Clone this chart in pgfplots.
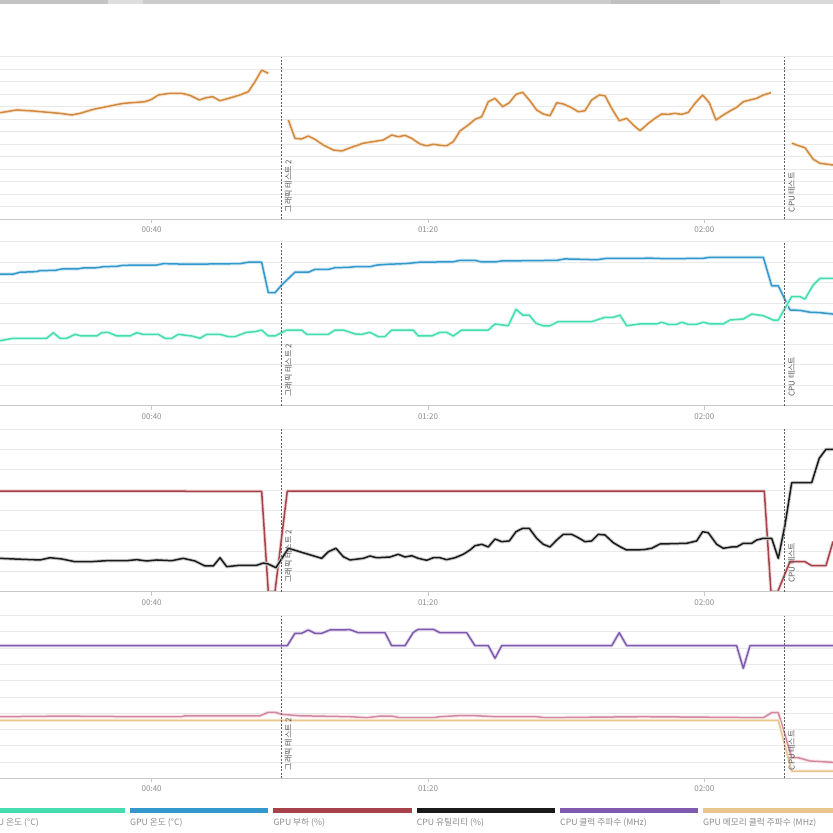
\documentclass[border=0pt]{standalone}
\usepackage{fontspec}
\setmainfont{Noto Sans CJK KR}
\usepackage{pgfplots}
\pgfplotsset{compat=1.18}
\definecolor{corange}{HTML}{D38A3C}
\definecolor{cblue}{HTML}{3399CC}
\definecolor{cteal}{HTML}{45DDB0}
\definecolor{cred}{HTML}{A8424A}
\definecolor{cblack}{HTML}{1A1A1A}
\definecolor{cpurple}{HTML}{7E5BAE}
\definecolor{ctan}{HTML}{E8C68E}
\definecolor{cpink}{HTML}{D4899F}
\definecolor{gridgray}{HTML}{E9E9E9}
\definecolor{axgray}{HTML}{C8C8C8}
\definecolor{labgray}{HTML}{8C8C8C}
\definecolor{rotgray}{HTML}{555555}
\definecolor{vgray}{HTML}{606060}
\pgfplotsset{panel/.style={
  width=833pt, height=#1, scale only axis, xmin=18.04, xmax=138.63,
  axis line style={draw=none},
  xtick={40,80,120}, xticklabels={00:40,01:20,02:00},
  tick align=outside, xtick pos=left, major tick length=4pt,
  xtick style={draw=axgray, line width=0.7pt},
  ytick=\empty,
  xticklabel style={font=\fontsize{8}{9}\selectfont, text=labgray},
  unbounded coords=jump,
  every axis plot/.append style={line width=1.5pt, line join=round, mark=none},
  anchor=south west,
}}
\tikzset{vline/.style={draw=vgray, line width=0.8pt, dash pattern=on 2pt off 1.5pt},
  vlab/.style={rotate=90, anchor=north west, inner sep=0pt, font=\fontsize{8}{9}\selectfont, text=rotgray},
  gl/.style={draw=gridgray, line width=0.8pt},
  ln/.style={draw=#1, preaction={draw=#1!22, line width=3.5pt}}}
\begin{document}
\begin{tikzpicture}
\useasboundingbox (0pt,0pt) rectangle (833pt,833pt);
% top scroll strip
\fill[fill=black!23] (0pt,829pt) rectangle (108pt,833pt);
\fill[fill=black!13] (108pt,829pt) rectangle (143pt,833pt);
\fill[fill=black!20] (143pt,829pt) rectangle (611pt,833pt);
\fill[fill=black!25] (611pt,829pt) rectangle (720pt,833pt);
\fill[fill=black!15] (720pt,829pt) rectangle (833pt,833pt);

% ---------- Panel 1 ----------
\begin{axis}[panel=162.6pt, at={(0pt,613.7pt)}, ymin=0, ymax=130]
\pgfplotsinvokeforeach{0,10,20,30,40,50,60,70,80,90,100,110,120,130}{\draw[gl] (axis cs:18.04,#1) -- (axis cs:138.63,#1);}
\addplot[ln=corange] coordinates {(18.04,85.2) (20.46,87.4) (22.82,86.6) (26.73,84.7) (28.42,83.4) (29.62,84.7) (31.55,87.9) (33.96,90.6) (35.89,92.7) (39.03,94.0) (40.00,95.9) (40.96,99.4) (42.65,100.7) (44.34,100.7) (45.55,99.1) (46.89,95.4) (47.86,97.2) (48.83,98.0) (49.89,94.8) (51.34,97.0) (52.78,99.4) (53.99,102.0) (54.95,110.0) (55.92,119.3) (56.88,116.7) (58,nan) (59.78,79.4) (60.74,64.7) (61.71,64.2) (62.67,66.6) (63.64,63.9) (64.84,59.4) (66.29,55.4) (67.50,54.6) (68.95,57.6) (70.63,60.8) (73.53,63.4) (74.74,67.4) (75.70,66.0) (76.67,67.1) (77.64,64.7) (78.84,60.2) (79.81,58.8) (80.77,60.0) (81.73,59.2) (82.70,58.8) (83.66,62.0) (84.63,70.6) (85.83,75.4) (86.80,79.9) (87.77,82.0) (88.73,94.0) (89.70,96.7) (90.81,90.0) (91.77,93.2) (92.74,99.9) (93.71,101.5) (94.66,95.4) (95.73,87.4) (96.69,84.2) (97.66,82.8) (98.63,93.2) (99.58,92.2) (100.70,89.5) (101.76,86.0) (102.72,86.8) (103.69,95.4) (104.80,99.4) (105.62,98.8) (106.59,88.7) (107.69,78.8) (108.76,80.7) (109.72,75.4) (110.69,70.8) (111.89,76.7) (112.86,80.7) (113.83,84.2) (114.79,83.9) (115.75,84.7) (116.72,83.9) (117.68,85.5) (118.65,92.7) (119.76,99.4) (120.72,93.2) (121.69,79.4) (122.75,83.4) (123.72,86.6) (124.68,89.5) (125.64,94.0) (126.61,95.4) (127.58,96.7) (128.54,99.4) (129.65,101.2) (131,nan) (132.65,60.8) (134.57,57.2) (135.77,48.0) (136.74,44.8) (138.63,43.4)};
\draw[axgray, line width=0.8pt] (rel axis cs:0,0) -- (rel axis cs:1,0);
\draw[vline] (axis cs:58.72,0) -- (axis cs:58.72,130);
\draw[vline] (axis cs:131.58,0) -- (axis cs:131.58,130);
\node[vlab] at ([xshift=3.5pt,yshift=7pt]axis cs:58.72,0) {그래픽 테스트 2};
\node[vlab] at ([xshift=3.5pt,yshift=7pt]axis cs:131.58,0) {CPU 테스트};
\end{axis}

% ---------- Panel 2 ----------
\begin{axis}[panel=164pt, at={(0pt,427.3pt)}, ymin=0, ymax=80]
\pgfplotsinvokeforeach{0,10,20,30,40,50,60,70,80}{\draw[gl] (axis cs:18.04,#1) -- (axis cs:138.63,#1);}
\addplot[ln=cblue] coordinates {(18.04,64.2) (19.97,64.2) (20.94,65.1) (23.35,65.4) (23.83,65.9) (26.00,66.0) (26.97,66.7) (29.37,66.8) (30.10,67.2) (32.04,67.3) (32.99,67.8) (34.93,68.0) (35.89,68.5) (40.72,68.6) (41.68,69.3) (44.10,69.1) (45.07,69.0) (52.78,69.3) (53.99,70.0) (55.92,70.0) (56.88,55.1) (57.85,55.1) (58.82,58.9) (60.74,65.1) (62.67,65.1) (63.64,66.5) (65.57,66.5) (66.53,67.3) (68.46,67.5) (69.43,67.8) (71.60,67.8) (72.57,68.6) (74.25,69.0) (76.67,69.3) (78.84,70.0) (83.66,70.2) (84.63,70.9) (86.80,70.9) (87.77,70.1) (89.70,70.1) (90.67,70.6) (98.63,70.9) (99.83,71.6) (102.48,71.4) (104.42,71.2) (105.87,71.9) (111.17,71.9) (111.89,72.0) (114.55,71.7) (119.85,71.9) (120.82,72.4) (128.54,72.4) (129.75,58.5) (130.71,58.5) (132.40,46.7) (133.85,46.5) (135.29,45.6) (136.74,45.4) (138.63,44.7)};
\addplot[ln=cteal] coordinates {(18.04,31.7) (19.97,32.9) (24.80,32.9) (25.76,35.6) (26.73,32.9) (27.70,32.9) (28.90,34.8) (29.87,34.0) (32.04,34.0) (32.76,35.6) (33.72,35.8) (34.93,34.0) (36.86,34.0) (37.83,35.6) (38.78,34.8) (40.96,34.8) (41.93,32.9) (42.90,32.9) (43.85,34.8) (45.79,34.0) (46.99,32.9) (47.96,34.8) (49.89,34.8) (51.09,33.7) (52.06,33.7) (53.75,35.8) (54.95,36.1) (55.92,36.9) (56.88,34.0) (57.85,34.0) (59.54,36.9) (61.71,36.9) (62.44,34.8) (65.57,34.8) (66.53,36.9) (67.74,36.9) (69.43,35.0) (70.40,34.8) (71.60,35.8) (72.80,33.7) (73.77,33.7) (74.74,36.9) (77.87,36.9) (78.60,34.0) (80.53,34.0) (81.73,35.8) (82.70,35.8) (83.66,34.0) (84.88,36.9) (88.73,36.9) (89.70,39.9) (91.62,39.0) (92.74,47.0) (93.71,44.2) (94.66,44.2) (95.63,40.2) (96.69,39.0) (97.66,39.0) (98.86,41.0) (103.69,41.0) (105.62,43.1) (106.82,43.1) (107.79,44.2) (108.76,39.0) (110.69,39.9) (113.10,39.9) (113.83,40.7) (114.79,39.7) (116.00,39.7) (116.72,40.7) (117.68,39.7) (118.89,39.7) (119.85,40.7) (120.82,39.9) (122.75,39.9) (123.72,41.8) (125.64,42.3) (126.86,44.7) (128.54,43.9) (129.98,41.8) (130.71,41.8) (132.65,53.2) (133.85,53.2) (134.57,52.0) (135.77,58.9) (136.74,62.1) (138.63,62.1)};
\draw[axgray, line width=0.8pt] (rel axis cs:0,0) -- (rel axis cs:1,0);
\draw[vline] (axis cs:58.72,0) -- (axis cs:58.72,80);
\draw[vline] (axis cs:131.58,0) -- (axis cs:131.58,80);
\node[vlab] at ([xshift=3.5pt,yshift=9pt]axis cs:58.72,0) {그래픽 테스트 2};
\node[vlab] at ([xshift=3.5pt,yshift=9pt]axis cs:131.58,0) {CPU 테스트};
\end{axis}

% ---------- Panel 3 ----------
\begin{axis}[panel=162.7pt, at={(0pt,241.3pt)}, ymin=0, ymax=160]
\pgfplotsinvokeforeach{0,20,40,60,80,100,120,140,160}{\draw[gl] (axis cs:18.04,#1) -- (axis cs:138.63,#1);}
\addplot[ln=cred] coordinates {(18.04,99) (44.82,99) (45.07,98.6) (55.92,98.6) (56.88,0) (57.85,0) (59.63,99) (128.68,99) (129.65,0) (130.62,0) (132.40,29.5) (134.57,29.5) (135.54,25.6) (137.61,25.6) (138.63,49.3)};
\addplot[ln=cblack] coordinates {(18.04,32.8) (19.97,32.2) (23.83,31.2) (25.28,33.4) (26.97,32.2) (28.90,29.5) (31.07,29.5) (33.49,30.5) (36.38,30.5) (37.83,31.5) (39.28,30.2) (40.72,31.2) (42.90,30.5) (44.57,32.8) (46.27,30.2) (47.72,25.3) (48.92,25.3) (49.89,33.4) (50.86,24.6) (52.78,26.0) (55.20,26.0) (56.16,28.2) (56.88,27.2) (57.99,23.6) (59.78,42.7) (64.61,32.8) (65.57,39.3) (66.68,42.7) (67.74,34.4) (68.71,31.2) (70.63,32.8) (71.60,35.1) (72.57,33.4) (74.50,34.1) (75.70,36.8) (76.67,34.1) (77.64,35.4) (78.60,32.8) (79.81,30.9) (80.77,33.4) (81.73,33.4) (82.70,31.5) (83.91,33.4) (85.11,36.8) (86.08,41.0) (86.80,45.2) (87.77,46.6) (88.73,44.0) (89.70,51.8) (90.67,49.2) (91.77,49.9) (92.74,59.0) (93.71,62.3) (94.66,62.3) (95.73,52.5) (96.69,46.6) (97.66,44.0) (98.63,50.8) (99.58,56.4) (100.80,56.4) (101.76,53.1) (102.72,49.2) (103.69,49.9) (104.65,56.4) (105.62,55.8) (106.82,48.2) (107.79,44.3) (108.76,41.0) (111.17,41.3) (112.38,42.7) (113.58,46.9) (117.45,47.6) (118.89,49.9) (119.76,59.0) (120.57,58.0) (121.79,46.6) (122.75,42.7) (123.96,44.0) (124.68,44.0) (125.64,47.6) (126.86,47.6) (127.58,50.8) (128.54,52.5) (129.75,52.5) (130.71,32.8) (131.68,65.6) (132.65,107.2) (135.54,107.2) (136.64,131.2) (137.61,140.0) (138.63,140.0)};
\draw[axgray, line width=0.8pt] (rel axis cs:0,0) -- (rel axis cs:1,0);
\draw[vline] (axis cs:58.72,0) -- (axis cs:58.72,160);
\draw[vline] (axis cs:131.58,0) -- (axis cs:131.58,160);
\node[vlab] at ([xshift=3.5pt,yshift=9pt]axis cs:58.72,0) {그래픽 테스트 2};
\node[vlab] at ([xshift=3.5pt,yshift=9pt]axis cs:131.58,0) {CPU 테스트};
\end{axis}

% ---------- Panel 4 ----------
\begin{axis}[panel=162.8pt, at={(0pt,54.7pt)}, ymin=0, ymax=5000]
\pgfplotsinvokeforeach{0,500,1000,1500,2000,2500,3000,3500,4000,4500,5000}{\draw[gl] (axis cs:18.04,#1) -- (axis cs:138.63,#1);}
\addplot[ln=cpurple] coordinates {(18.04,4072) (59.63,4072) (60.74,4453) (61.71,4453) (62.67,4555) (63.64,4453) (64.61,4453) (65.81,4555) (68.71,4564) (69.91,4472) (73.77,4472) (74.74,4072) (76.67,4072) (77.87,4480) (78.60,4576) (80.77,4576) (81.73,4472) (85.60,4472) (86.80,4072) (88.73,4072) (89.70,3686) (90.67,4072) (106.59,4072) (107.69,4472) (108.76,4072) (124.68,4072) (125.64,3378) (126.61,4072) (138.63,4072)};
\addplot[ln=cpink] coordinates {(18.04,1892) (26.97,1910) (38.31,1892) (44.34,1892) (44.82,1920) (55.68,1920) (56.88,2027) (57.85,2027) (58.82,1966) (61.47,1920) (68.71,1892) (71.12,1861) (73.05,1910) (74.74,1910) (75.94,1861) (80.77,1861) (81.73,1892) (84.38,1923) (86.80,1923) (89.94,1892) (95.73,1892) (96.93,1861) (111.17,1892) (128.54,1861) (129.75,2015) (130.71,2015) (132.65,633) (133.60,633) (135.29,531) (138.63,491)};
\addplot[ln=ctan] coordinates {(18.04,1780) (130.71,1780) (132.65,224) (138.63,224)};
\draw[axgray, line width=0.8pt] (rel axis cs:0,0) -- (rel axis cs:1,0);
\draw[vline] (axis cs:58.72,0) -- (axis cs:58.72,5000);
\draw[vline] (axis cs:131.58,0) -- (axis cs:131.58,5000);
\node[vlab] at ([xshift=3.5pt,yshift=8pt]axis cs:58.72,0) {그래픽 테스트 2};
\node[vlab] at ([xshift=3.5pt,yshift=8pt]axis cs:131.58,0) {CPU 테스트};
\end{axis}

% ---------- Legend ----------
\fill[cteal]   (-13.3pt,19.7pt) rectangle (125pt,24.7pt);
\fill[cblue]   (130pt,19.7pt) rectangle (268.3pt,24.7pt);
\fill[cred]    (273.3pt,19.7pt) rectangle (411.7pt,24.7pt);
\fill[cblack]  (416.7pt,19.7pt) rectangle (555pt,24.7pt);
\fill[cpurple] (560pt,19.7pt) rectangle (697.7pt,24.7pt);
\fill[ctan]    (703pt,19.7pt) rectangle (841pt,24.7pt);
\begin{scope}[every node/.style={anchor=west, inner sep=0pt, font=\fontsize{8.7}{10}\selectfont, text=labgray}]
\node at (-13.3pt,10.3pt) {CPU 온도 (°C)};
\node at (130pt,10.3pt) {GPU 온도 (°C)};
\node at (273.3pt,10.3pt) {GPU 부하 (\%)};
\node at (416.7pt,10.3pt) {CPU 유틸리티 (\%)};
\node at (560pt,10.3pt) {CPU 클럭 주파수 (MHz)};
\node at (703pt,10.3pt) {GPU 메모리 클럭 주파수 (MHz)};
\end{scope}
\end{tikzpicture}
\end{document}
